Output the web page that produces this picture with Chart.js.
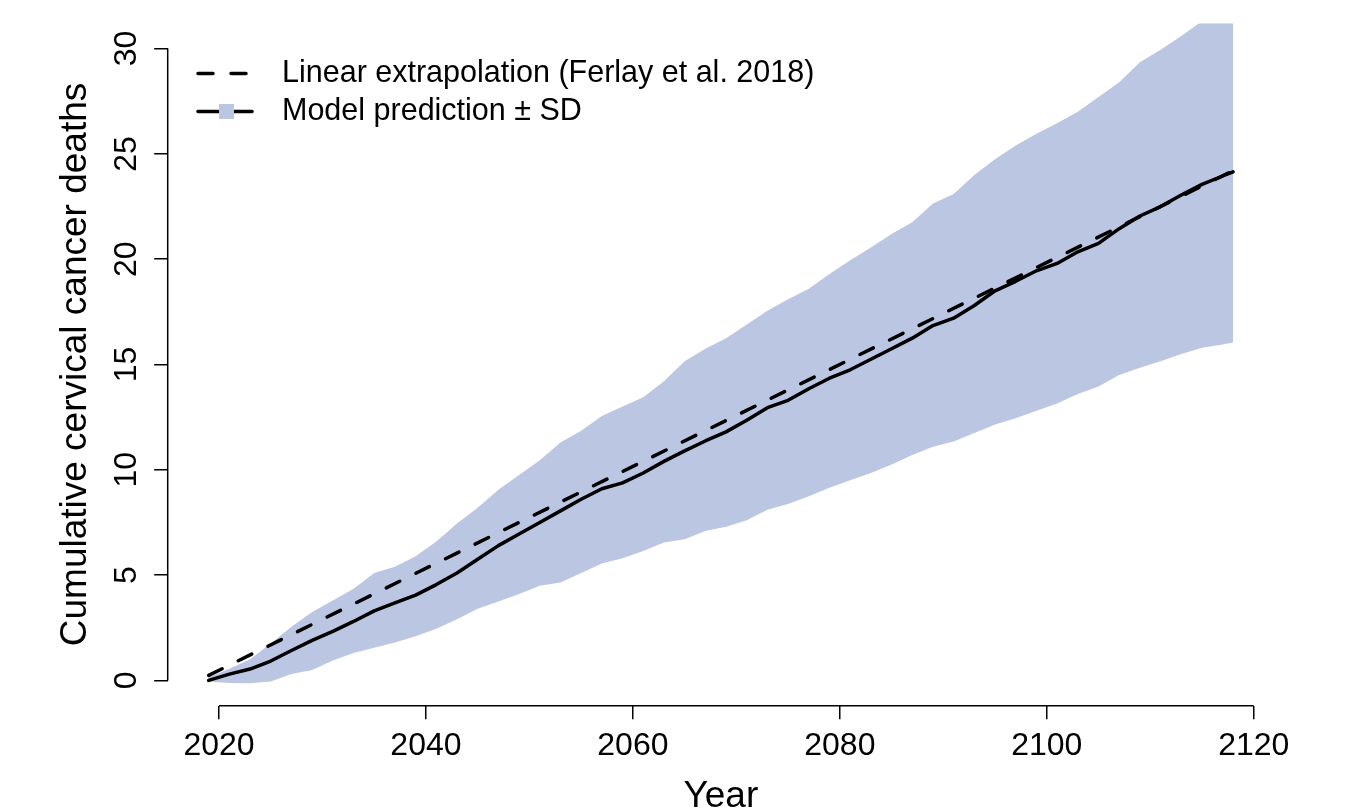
<!DOCTYPE html>
<html>
<head>
<meta charset="utf-8">
<script src="https://cdn.jsdelivr.net/npm/chart.js@4"></script>
<style>
  html, body { margin: 0; padding: 0; background: #fff; }
  #wrap { width: 1349px; height: 810px; }
</style>
</head>
<body>
<div id="wrap"><canvas id="chart" width="1349" height="810"></canvas></div>
<script>
// values
const years = [2019, 2021, 2023, 2025, 2027, 2029, 2031, 2033, 2035, 2037,
  2039, 2041, 2043, 2045, 2047, 2049, 2051, 2053, 2055, 2057,
  2059, 2061, 2063, 2065, 2067, 2069, 2071, 2073, 2075, 2077,
  2079, 2081, 2083, 2085, 2087, 2089, 2091, 2093, 2095, 2097,
  2099, 2101, 2103, 2105, 2107, 2109, 2111, 2113, 2115, 2117, 2118]
const modelMean = [0.0, 0.3, 0.54, 0.92, 1.42, 1.9, 2.33, 2.8, 3.3, 3.68,
  4.05, 4.55, 5.1, 5.75, 6.4, 6.95, 7.5, 8.05, 8.6, 9.1,
  9.38, 9.85, 10.4, 10.9, 11.37, 11.8, 12.35, 12.95, 13.3, 13.85,
  14.35, 14.75, 15.25, 15.75, 16.25, 16.85, 17.2, 17.8, 18.5, 18.95,
  19.45, 19.8, 20.35, 20.75, 21.45, 22.05, 22.5, 23.05, 23.55, 23.95, 24.15]
const sdUpper = [0.15, 0.55, 1.0, 1.75, 2.55, 3.25, 3.8, 4.35, 5.1, 5.4,
  5.9, 6.6, 7.45, 8.2, 9.05, 9.75, 10.45, 11.3, 11.85, 12.55,
  13.0, 13.45, 14.2, 15.15, 15.75, 16.25, 16.9, 17.55, 18.1, 18.6,
  19.3, 19.95, 20.55, 21.2, 21.75, 22.65, 23.1, 24.0, 24.75, 25.4,
  25.95, 26.45, 27.0, 27.7, 28.4, 29.35, 29.95, 30.6, 31.3, 31.9, 32.2]
const sdLower = [-0.05, -0.12, -0.13, -0.05, 0.3, 0.5, 0.95, 1.3, 1.55, 1.8,
  2.1, 2.45, 2.9, 3.4, 3.75, 4.1, 4.5, 4.65, 5.1, 5.55,
  5.8, 6.15, 6.55, 6.7, 7.1, 7.3, 7.6, 8.1, 8.38, 8.75,
  9.15, 9.5, 9.85, 10.25, 10.7, 11.1, 11.35, 11.75, 12.15, 12.45,
  12.8, 13.15, 13.6, 13.95, 14.5, 14.85, 15.15, 15.5, 15.8, 15.95, 16.05]
const linearYears = [2019, 2118]
const linearValues = [0.24, 24.2]

const xTicks = [2020, 2040, 2060, 2080, 2100, 2120]
const yTicks = [0, 5, 10, 15, 20, 25, 30]

const legendItems = ['Linear extrapolation (Ferlay et al. 2018)', 'Model prediction \u00b1 SD']
const xTitle = 'Year'
const yTitle = 'Cumulative cervical cancer deaths'

const bandColor = '#bbc7e2'
const font = '"Liberation Sans", Arial, Helvetica, sans-serif'

const toPoints = (xs, ys) => xs.map((x, i) => ({ x, y: ys[i] }))

// R-like axes: lines only from first to last tick, rotated y labels, legend
const rStyle = {
  id: 'rStyle',
  afterDraw(chart) {
    const { ctx, chartArea } = chart
    const x = chart.scales.x
    const y = chart.scales.y
    ctx.save()
    ctx.strokeStyle = '#000'
    ctx.lineWidth = 1.5
    ctx.beginPath()
    ctx.moveTo(x.getPixelForValue(xTicks[0]), chartArea.bottom)
    ctx.lineTo(x.getPixelForValue(xTicks[xTicks.length - 1]), chartArea.bottom)
    ctx.moveTo(chartArea.left, y.getPixelForValue(yTicks[0]))
    ctx.lineTo(chartArea.left, y.getPixelForValue(yTicks[yTicks.length - 1]))
    ctx.stroke()

    ctx.fillStyle = '#000'
    ctx.font = '32px ' + font
    ctx.textAlign = 'center'
    ctx.textBaseline = 'alphabetic'
    xTicks.forEach(v => ctx.fillText(String(v), x.getPixelForValue(v), 755))

    yTicks.forEach(v => {
      ctx.save()
      ctx.translate(135.5, y.getPixelForValue(v))
      ctx.rotate(-Math.PI / 2)
      ctx.fillText(String(v), 0, 0)
      ctx.restore()
    })

    ctx.font = '37px ' + font
    ctx.fillText(xTitle, (chartArea.left + chartArea.right) / 2, 806.5)
    ctx.save()
    ctx.translate(86, (chartArea.top + chartArea.bottom) / 2)
    ctx.rotate(-Math.PI / 2)
    ctx.fillText(yTitle, 0, 0)
    ctx.restore()

    // legend
    ctx.lineWidth = 3.5
    ctx.lineCap = 'round'
    ctx.setLineDash([15, 18])
    ctx.beginPath()
    ctx.moveTo(198, 73.5)
    ctx.lineTo(252, 73.5)
    ctx.stroke()
    ctx.setLineDash([])
    ctx.beginPath()
    ctx.moveTo(198, 111.5)
    ctx.lineTo(252, 111.5)
    ctx.stroke()
    ctx.fillStyle = bandColor
    ctx.fillRect(219, 104, 15, 15)
    ctx.fillStyle = '#000'
    ctx.font = '30.5px ' + font
    ctx.textAlign = 'left'
    ctx.textBaseline = 'middle'
    ctx.fillText(legendItems[0], 282, 74)
    ctx.fillText(legendItems[1], 282, 112)
    ctx.restore()
  }
}

const axisCommon = {
  type: 'linear',
  border: { display: false },
  grid: { drawOnChartArea: false, drawTicks: true, tickLength: 13.5, color: '#000', lineWidth: 1.5 },
  ticks: { display: false },
}

new Chart(document.getElementById('chart').getContext('2d'), {
  type: 'line',
  data: {
    datasets: [
      {
        label: 'SD lower',
        data: toPoints(years, sdLower),
        borderWidth: 0,
        pointRadius: 0,
        fill: false,
        order: 2,
      },
      {
        label: 'SD upper',
        data: toPoints(years, sdUpper),
        borderWidth: 0,
        pointRadius: 0,
        backgroundColor: bandColor,
        fill: '-1',
        order: 2,
      },
      {
        label: 'Model prediction',
        data: toPoints(years, modelMean),
        borderColor: '#000',
        borderWidth: 3.5,
        borderCapStyle: 'round',
        borderJoinStyle: 'round',
        pointRadius: 0,
        fill: false,
        order: 0,
      },
      {
        label: 'Linear extrapolation',
        data: toPoints(linearYears, linearValues),
        borderColor: '#000',
        borderWidth: 3.5,
        borderDash: [15, 18],
        borderCapStyle: 'round',
        pointRadius: 0,
        fill: false,
        order: 1,
      },
    ],
  },
  options: {
    responsive: false,
    animation: false,
    devicePixelRatio: 1,
    layout: { padding: { top: 23.3, right: 75, left: 0, bottom: 0 } },
    plugins: {
      legend: { display: false },
      tooltip: { enabled: false },
      filler: { drawTime: 'beforeDatasetsDraw' },
    },
    scales: {
      x: {
        ...axisCommon,
        min: 2015.04,
        max: 2121.96,
        afterBuildTicks: s => { s.ticks = xTicks.map(value => ({ value })) },
        afterFit: s => { s.height = 104.3 },
      },
      y: {
        ...axisCommon,
        min: -1.2,
        max: 31.2,
        afterBuildTicks: s => { s.ticks = yTicks.map(value => ({ value })) },
        afterFit: s => { s.width = 167.7 },
      },
    },
  },
  plugins: [rStyle],
})
</script>
</body>
</html>
